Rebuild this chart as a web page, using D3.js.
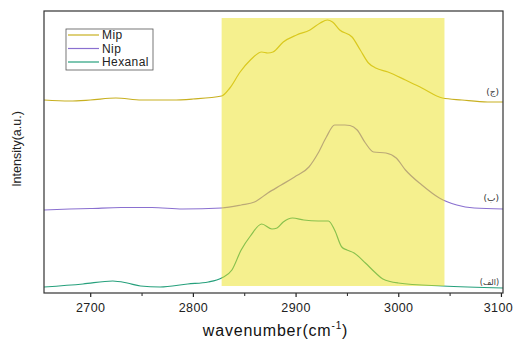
<!DOCTYPE html>
<html><head><meta charset="utf-8">
<script src="https://cdn.jsdelivr.net/npm/d3@7"></script>
<style>body{margin:0;background:#fff}svg{display:block}</style>
</head><body>
<script>
// Data (wavenumber, intensity a.u. incl. vertical offset)
const mipX = [2655,2680,2700,2725,2750,2780,2800,2828,2836,2846,2856,2867,2873,2878,2888,2901,2914,2924,2931,2936,2943,2955,2963,2971,2978,2990,3007,3023,3043,3062,3087,3102];
const mipY = [193,192,193,195,193,193,194,197,205,221,233,241,240,241,251,258,263,270,273,271,263,256,243,230,225,221,213,205,195,193,191,191];
const nipX = [2655,2680,2700,2730,2760,2790,2828,2847,2860,2873,2886,2899,2913,2922,2930,2938,2948,2953,2960,2968,2976,2988,2998,3007,3023,3040,3057,3074,3102];
const nipY = [83,84,84.5,85.5,85.5,84,85,88,91,100,108,116,126,140,156,168,168,167.5,163,150,141,140,135,123,108,95,88,85,84];
const hexX = [2655,2693,2722,2736,2749,2768,2795,2815,2828,2838,2847,2856,2867,2877,2882,2888,2897,2908,2922,2932,2938,2945,2950,2957,2968,2978,2985,3000,3043,3102];
const hexY = [6,9,12,10,7,6,9,11,15,23,43,57,69,64,65,71,75,73,72,72,63,46,43,40,30,20,14,10,7,5];
const seriesNames = ["Mip","Nip","Hexanal"];
const seriesColors = ["#c8b020","#8a70d0","#26a07c"];
const sideLabels = ["(ج)","(ب)","(الف)"];
const sideLabelY = [198,92,8];
const xTicks = [2700,2800,2900,3000,3100];
const xMinor = [2750,2850,2950,3050];
const band = [2828,3045];

const W=515,H=339, L=44,R=503,T=11,B=293;
const FONT="Liberation Sans, Arial, sans-serif";
const svg=d3.select("body").append("svg").attr("width",W).attr("height",H);
const x=d3.scaleLinear().domain([2655,3102]).range([L,R]);
const y=d3.scaleLinear().domain([0,282]).range([B,T]);

const data=[d3.zip(mipX,mipY),d3.zip(nipX,nipY),d3.zip(hexX,hexY)];
const line=d3.line().x(d=>x(d[0])).y(d=>y(d[1])).curve(d3.curveMonotoneX);
data.forEach((d,i)=>{
  svg.append("path").attr("d",line(d)).attr("fill","none")
    .attr("stroke",seriesColors[i]).attr("stroke-width",1.2);
});
// highlighted band
svg.append("rect").attr("x",x(band[0])).attr("y",y(275)).attr("width",x(band[1])-x(band[0]))
  .attr("height",y(7)-y(275)).attr("fill","#ebe11e").attr("opacity",0.5);

// axis
const ax=svg.append("g").attr("transform",`translate(0,${B})`)
  .call(d3.axisBottom(x).tickValues(xTicks).tickSize(4).tickFormat(d3.format("d")));
ax.select(".domain").remove();
ax.selectAll("text").attr("font-family",FONT).attr("font-size",12.5).attr("letter-spacing",0.4)
  .attr("fill","#222").attr("dy","0.95em")
  .attr("dx",d=>d===3100?-3:0);
ax.selectAll("line").attr("stroke","#222").attr("stroke-width",1.2);
svg.append("g").attr("transform",`translate(0,${B})`)
  .call(d3.axisBottom(x).tickValues(xMinor).tickSize(3).tickFormat(""))
  .call(g=>g.select(".domain").remove()).selectAll("line").attr("stroke","#222");

// frame
svg.append("rect").attr("x",L).attr("y",T).attr("width",R-L).attr("height",B-T)
  .attr("fill","none").attr("stroke","#333").attr("stroke-width",1.2);

// axis titles
const xt=svg.append("text").attr("x",(L+R)/2+2).attr("y",336).attr("text-anchor","middle")
  .attr("font-family",FONT).attr("font-size",16).attr("letter-spacing",0.8).attr("fill","#111");
xt.append("tspan").text("wavenumber(cm");
xt.append("tspan").attr("font-size",10).attr("dy",-7).text("-1");
xt.append("tspan").attr("dy",7).text(")");
svg.append("text").attr("transform",`translate(21,149) rotate(-90)`).attr("text-anchor","middle")
  .attr("font-family",FONT).attr("font-size",12.5).attr("fill","#222")
  .text("Intensity(a.u.)");

// side labels
sideLabels.forEach((t,i)=>{
  svg.append("text").attr("x",499).attr("y",y(sideLabelY[i])).attr("text-anchor","end")
    .attr("font-family","DejaVu Sans, sans-serif").attr("font-size",i==2?8:9).attr("fill","#333").text(t);
});

// legend
const lg=svg.append("g");
lg.append("rect").attr("x",66).attr("y",29).attr("width",87).attr("height",41)
  .attr("fill","#fff").attr("stroke","#555").attr("stroke-width",0.8);
seriesNames.forEach((n,i)=>{
  const yy=35+i*13.5;
  lg.append("line").attr("x1",68).attr("x2",99).attr("y1",yy).attr("y2",yy)
    .attr("stroke",seriesColors[i]).attr("stroke-width",1.2);
  lg.append("text").attr("x",102).attr("y",yy+4).attr("font-family",FONT)
    .attr("font-size",12).attr("letter-spacing",0.4).attr("fill","#222").text(n);
});
</script>
</body></html>
